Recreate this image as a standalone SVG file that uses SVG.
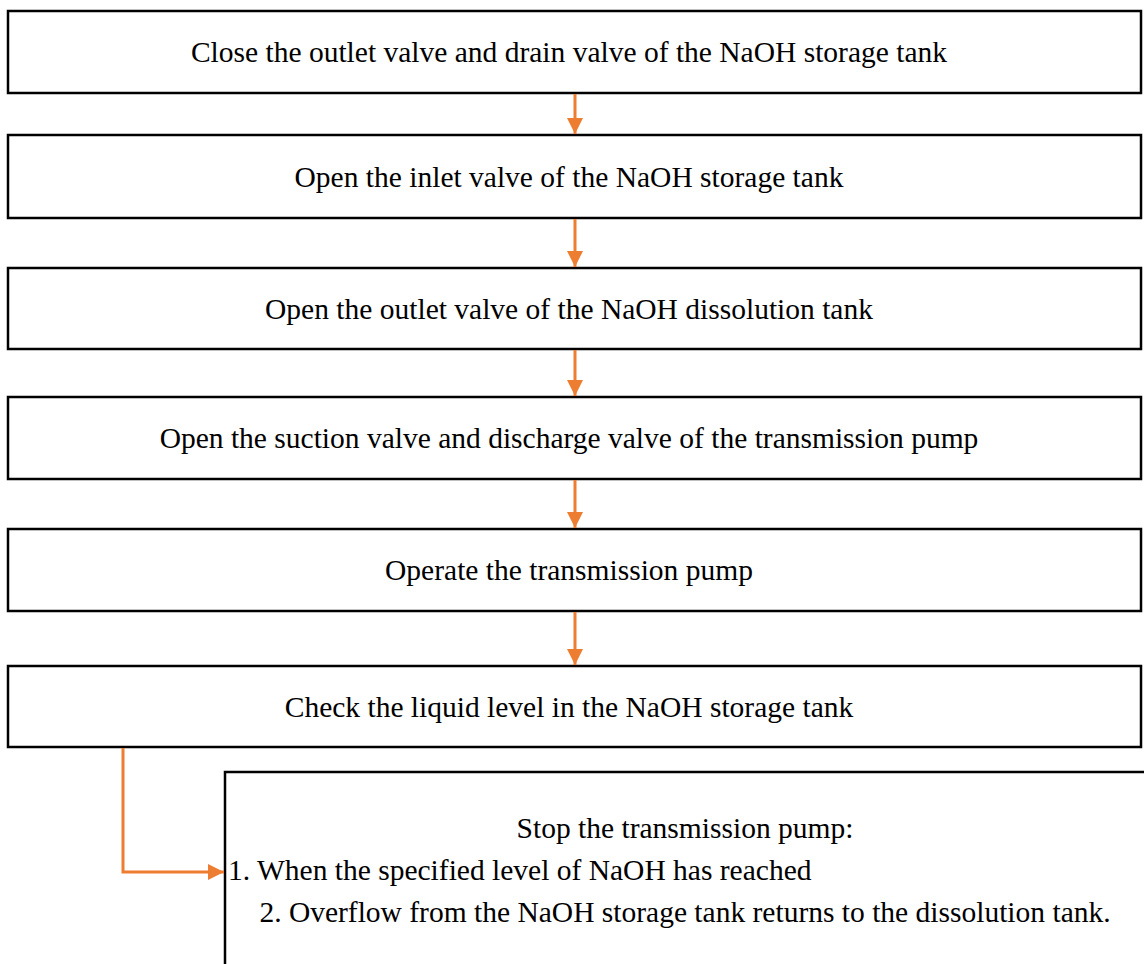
<svg xmlns="http://www.w3.org/2000/svg" width="1144" height="964" viewBox="0 0 1144 964">
<style>
.box{fill:#fff;stroke:#000;stroke-width:2.5}
.t{font-family:"Liberation Serif","Times New Roman",serif;font-size:29.5px;fill:#000}
.c{text-anchor:middle}
.conn{stroke:#ED7D31;stroke-width:3;fill:none}
</style>
<defs>
<marker id="ah" markerWidth="5.5" markerHeight="5.5" refX="5.5" refY="2.75" orient="auto" markerUnits="strokeWidth">
<path d="M0,0 L5.5,2.75 L0,5.5 z" fill="#ED7D31"/>
</marker>
</defs>
<rect width="1144" height="964" fill="#fff"/>
<g id="n1"><rect class="box" x="8" y="11" width="1133" height="82"/><text class="t c" x="569" y="62">Close the outlet valve and drain valve of the NaOH storage tank</text></g>
<g id="n2"><rect class="box" x="8" y="135" width="1133" height="83"/><text class="t c" x="569" y="187">Open the inlet valve of the NaOH storage tank</text></g>
<g id="n3"><rect class="box" x="8" y="268" width="1133" height="81"/><text class="t c" x="569" y="319">Open the outlet valve of the NaOH dissolution tank</text></g>
<g id="n4"><rect class="box" x="8" y="397" width="1133" height="82"/><text class="t c" x="569" y="448">Open the suction valve and discharge valve of the transmission pump</text></g>
<g id="n5"><rect class="box" x="8" y="529" width="1133" height="82"/><text class="t c" x="569" y="580">Operate the transmission pump</text></g>
<g id="n6"><rect class="box" x="8" y="666" width="1133" height="81"/><text class="t c" x="569" y="717">Check the liquid level in the NaOH storage tank</text></g>
<g id="n7"><rect class="box" x="225" y="772" width="930" height="210"/>
<text class="t c" x="685" y="838">Stop the transmission pump:</text>
<text class="t" x="228" y="880">1. When the specified level of NaOH has reached</text>
<text class="t c" x="685" y="922">2. Overflow from the NaOH storage tank returns to the dissolution tank.</text>
</g>
<g id="connectors">
<line class="conn" x1="575" y1="94" x2="575" y2="134" marker-end="url(#ah)"/>
<line class="conn" x1="575" y1="219" x2="575" y2="267" marker-end="url(#ah)"/>
<line class="conn" x1="575" y1="350" x2="575" y2="396" marker-end="url(#ah)"/>
<line class="conn" x1="575" y1="480" x2="575" y2="528" marker-end="url(#ah)"/>
<line class="conn" x1="575" y1="612" x2="575" y2="665" marker-end="url(#ah)"/>
<polyline class="conn" points="123,748 123,872 224,872" marker-end="url(#ah)"/>
</g>
</svg>
